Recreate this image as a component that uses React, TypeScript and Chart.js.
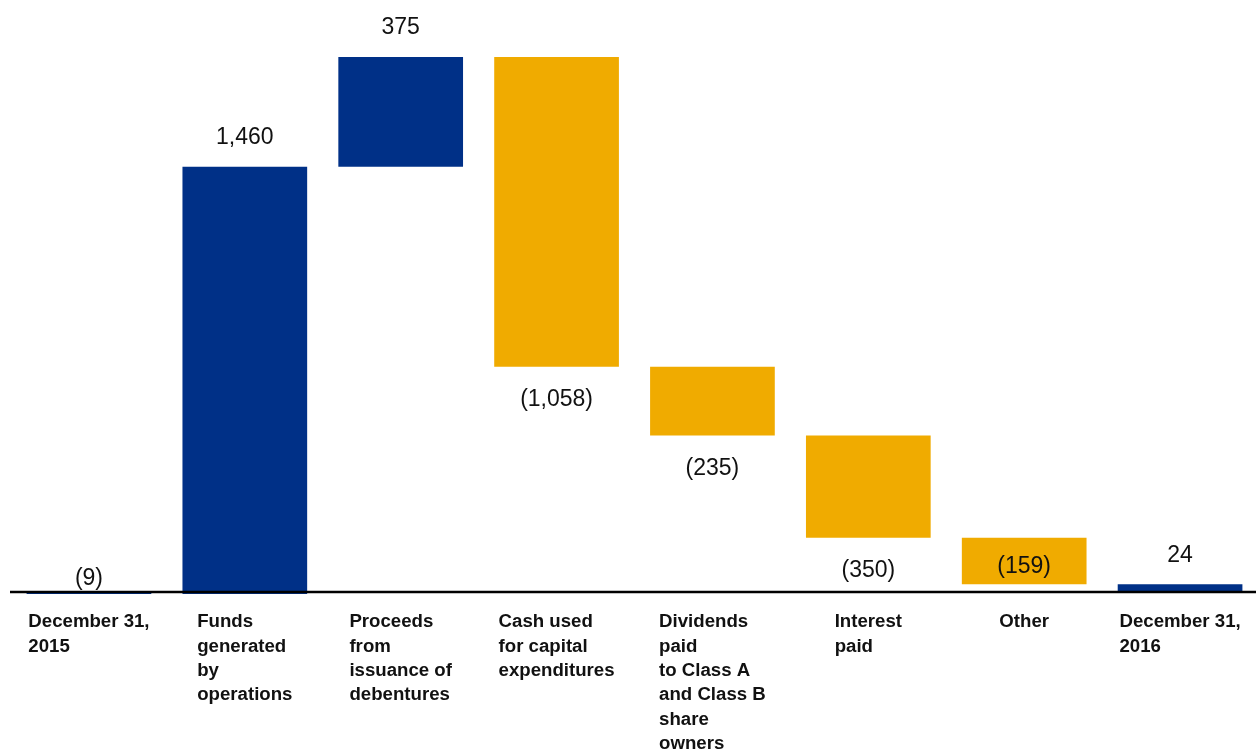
import React, { useEffect, useRef } from "react";
import { Chart, registerables } from "chart.js";

Chart.register(...registerables);

const categories: string[][] = [
  ["December 31,", "2015"],
  ["Funds", "generated", "by", "operations"],
  ["Proceeds", "from", "issuance of", "debentures"],
  ["Cash used", "for capital", "expenditures"],
  ["Dividends", "paid", "to Class A", "and Class B", "share", "owners"],
  ["Interest", "paid"],
  ["Other"],
  ["December 31,", "2016"],
];

const values: number[] = [-9, 1460, 375, -1058, -235, -350, -159, 24];
const isTotal: boolean[] = [true, false, false, false, false, false, false, true];

const BLUE = "#003087";
const YELLOW = "#F0AB00";
const FONT = '"Liberation Sans", Arial, Helvetica, sans-serif';

function fmt(v: number): string {
  const s = Math.abs(v).toLocaleString("en-US");
  return v < 0 ? `(${s})` : s;
}

export default function App() {
  const ref = useRef<HTMLCanvasElement | null>(null);

  useEffect(() => {
    if (!ref.current) return;
    const ranges: [number, number][] = [];
    let cum = 0;
    values.forEach((v, i) => {
      if (isTotal[i]) {
        ranges.push([0, v]);
        cum = v;
      } else {
        ranges.push([cum, cum + v]);
        cum += v;
      }
    });
    const colors = values.map((v, i) => (isTotal[i] || v >= 0 ? BLUE : YELLOW));

    const labelPlugin = {
      id: "waterfallLabels",
      afterDatasetsDraw(chart: any) {
        const ctx = chart.ctx as CanvasRenderingContext2D;
        const x = chart.scales.x;
        const y = chart.scales.y;
        const zero = y.getPixelForValue(0);
        ctx.save();
        ctx.strokeStyle = "#000";
        ctx.lineWidth = 2.4;
        ctx.beginPath();
        ctx.moveTo(chart.chartArea.left - 1, zero + 0.6);
        ctx.lineTo(chart.width, zero + 0.6);
        ctx.stroke();

        ctx.fillStyle = "#111";
        ctx.font = `23px ${FONT}`;
        ctx.textAlign = "center";
        ctx.textBaseline = "middle";
        values.forEach((v, i) => {
          const cx = x.getPixelForValue(i);
          const [a, b] = ranges[i];
          const top = y.getPixelForValue(Math.max(a, b));
          const bottom = y.getPixelForValue(Math.min(a, b));
          let ly: number;
          if (isTotal[i] && v < 0) {
            ly = zero - 13;
          } else if (v >= 0) {
            ly = top - 29;
          } else {
            ly = bottom + 33;
            if (ly > zero - 15) ly = top + 29;
          }
          ctx.fillText(fmt(v), cx, ly);
        });

        const sx = 1.065;
        ctx.font = `bold 17.5px ${FONT}`;
        ctx.fillStyle = "#111";
        ctx.textAlign = "left";
        ctx.textBaseline = "alphabetic";
        categories.forEach((lines, i) => {
          const cx = x.getPixelForValue(i);
          const w = Math.max(...lines.map((l) => ctx.measureText(l).width)) * sx;
          const lx = cx - w / 2;
          lines.forEach((l, j) => {
            ctx.save();
            ctx.translate(lx, zero + 36 + j * 24.3);
            ctx.scale(sx, 1);
            ctx.fillText(l, 0, 0);
            ctx.restore();
          });
        });
        ctx.restore();
      },
    };

    const chart = new Chart(ref.current, {
      type: "bar",
      data: {
        labels: categories.map((c) => c.join(" ")),
        datasets: [
          {
            data: ranges as any,
            backgroundColor: colors,
            borderWidth: 0,
            barPercentage: 0.8,
            categoryPercentage: 1,
          },
        ],
      },
      options: {
        responsive: false,
        animation: false,
        devicePixelRatio: 1,
        layout: { padding: { left: 11, right: 2, top: 12, bottom: 143 } },
        scales: {
          x: { display: false },
          y: { display: false, min: -50, max: 1980 },
        },
        plugins: {
          legend: { display: false },
          tooltip: { enabled: false },
        },
      },
      plugins: [labelPlugin],
    });
    return () => chart.destroy();
  }, []);

  return (
    <div
      style={{
        position: "absolute",
        left: 0,
        top: 0,
        width: 1256,
        height: 749,
        overflow: "hidden",
        background: "#fff",
      }}
    >
      <canvas ref={ref} width={1260} height={749} style={{ display: "block" }} />
    </div>
  );
}
